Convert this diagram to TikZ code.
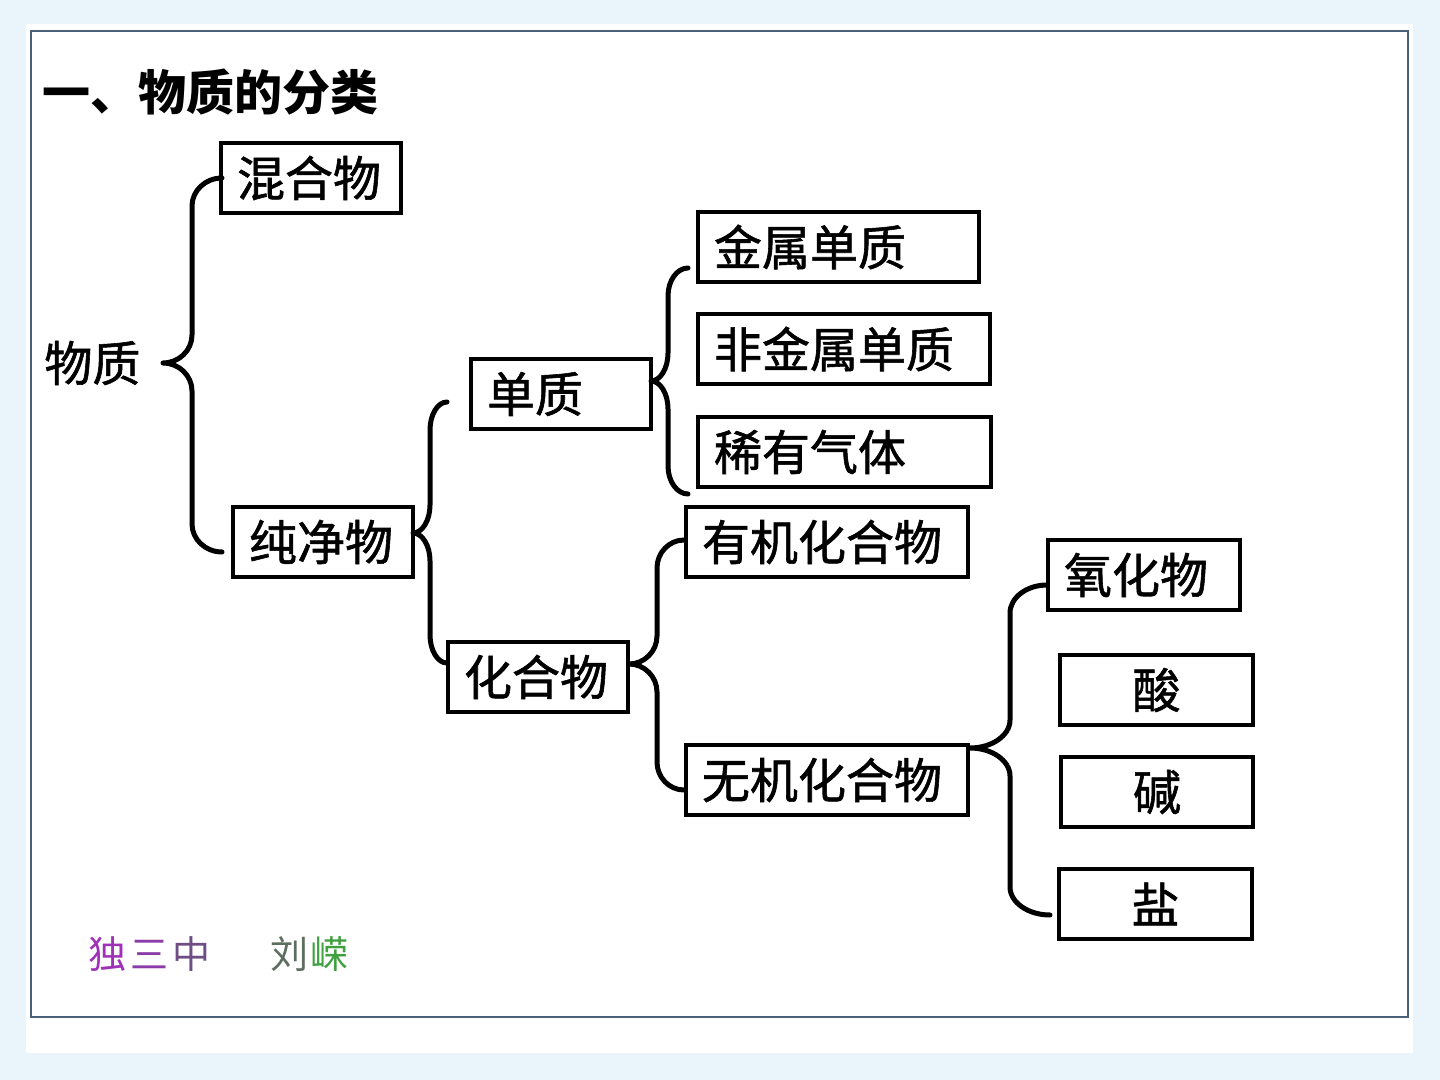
\documentclass[tikz,border=0pt]{standalone}
\usepackage{fontspec}
\usetikzlibrary{calc}
\newfontfamily\cjk{Noto Sans CJK SC}
\newfontfamily\cjkm[FakeBold=1.2]{Noto Sans CJK SC}
\definecolor{bgblue}{HTML}{E9F4FB}
\definecolor{framecol}{HTML}{4A5F7A}
\definecolor{fpurple1}{HTML}{A030B8}
\definecolor{fpurple2}{HTML}{8A3CA8}
\definecolor{fpurple3}{HTML}{6F4E86}
\definecolor{fgray}{HTML}{5E6E5E}
\definecolor{fgreen}{HTML}{3FA040}
\tikzset{
  box/.style={draw, line width=2pt, inner xsep=8pt, inner ysep=0pt, minimum height=35pt,
    anchor=north west, align=left, font=\cjkm\fontsize{24}{26}\selectfont},
  cbox/.style={box, align=center},
  bracestyle/.style={line width=2.5pt, line cap=round, line join=round},
  plain/.style={inner sep=0pt, font=\cjkm\fontsize{24}{26}\selectfont}
}
\newcommand\cbrace[4]{%
  \draw[bracestyle] let \p1=(#1),\p2=(#2),\p3=(#3),\p4=(#4) in
  (\p1) .. controls ({\x1-0.55*(\x1-\x4)},{\y1}) and ({\x4},{\y1-0.45*14pt}) .. ({\x4},{\y1-14pt})
  -- ({\x4},{\y2+14pt}) .. controls ({\x4},{\y2+0.45*14pt}) and ({\x2+0.55*(\x4-\x2)},{\y2}) .. (\p2)
  .. controls ({\x2+0.55*(\x4-\x2)},{\y2}) and ({\x4},{\y2-0.45*14pt}) .. ({\x4},{\y2-14pt})
  -- ({\x4},{\y3+14pt}) .. controls ({\x4},{\y3+0.45*14pt}) and ({\x3-0.55*(\x3-\x4)},{\y3}) .. (\p3);}
\begin{document}
\begin{tikzpicture}[x=0.5pt,y=-0.5pt]
\useasboundingbox (0,0) rectangle (1440,1080);
\fill[bgblue] (0,0) rectangle (1440,1080);
\fill[white] (26,24) rectangle (1413,1053);
\draw[framecol, line width=1pt] (31,31) rectangle (1408,1017);

% title
\node[plain, anchor=west, font=\cjk\bfseries\fontsize{24}{26}\selectfont] (title) at (42,92) {一、物质的分类};

% root label
\node[plain, anchor=west] (wz) at (44,363) {物质};

% boxes
\node[box, text width=74pt] (hun) at (219,141) {混合物};
\node[box, text width=74pt] (chun) at (231,505) {纯净物};
\node[box, text width=74pt] (dan) at (469,357) {单质};
\node[box, text width=74pt] (hua) at (446,640) {化合物};
\node[box, text width=124.5pt] (js) at (696,210) {金属单质};
\node[box, text width=130pt] (fjs) at (696,312) {非金属单质};
\node[box, text width=130.5pt] (xy) at (696,415) {稀有气体};
\node[box, text width=125pt] (yj) at (684,505) {有机化合物};
\node[box, text width=125pt] (wj) at (684,743) {无机化合物};
\node[box, text width=80pt] (yh) at (1046,538) {氧化物};
\node[cbox, text width=80.5pt] (suan) at (1058,653) {酸};
\node[cbox, text width=80pt] (jian) at (1059,755) {碱};
\node[cbox, text width=80.5pt] (yan) at (1057,867) {盐};

% brace coordinates
\coordinate (b1t) at (222,178); \coordinate (b1m) at (163,363); \coordinate (b1b) at (222,552); \coordinate (b1v) at (192,0);
\coordinate (b2t) at (447,402); \coordinate (b2m) at (413,533); \coordinate (b2b) at (447,663); \coordinate (b2v) at (430,0);
\coordinate (b3t) at (688,268); \coordinate (b3m) at (651,381); \coordinate (b3b) at (688,494); \coordinate (b3v) at (668,0);
\coordinate (b4t) at (684,540); \coordinate (b4m) at (629,664); \coordinate (b4b) at (684,790); \coordinate (b4v) at (657,0);
\coordinate (b5t) at (1047,585); \coordinate (b5m) at (970,748); \coordinate (b5b) at (1050,915); \coordinate (b5v) at (1010,0);

\cbrace{b1t}{b1m}{b1b}{b1v}
\cbrace{b2t}{b2m}{b2b}{b2v}
\cbrace{b3t}{b3m}{b3b}{b3v}
\cbrace{b4t}{b4m}{b4b}{b4v}
\cbrace{b5t}{b5m}{b5b}{b5v}

% footer
\node[inner sep=0pt, anchor=west, font=\cjk\fontsize{19}{20}\selectfont] (school) at (88,954)
  {\textcolor{fpurple1}{独}\hspace{2pt}\textcolor{fpurple2}{三}\hspace{2pt}\textcolor{fpurple3}{中}};
\node[inner sep=0pt, anchor=west, font=\cjk\fontsize{19}{20}\selectfont] (author) at (270,954)
  {\textcolor{fgray}{刘}\hspace{1pt}\textcolor{fgreen}{嵘}};
\end{tikzpicture}
\end{document}
